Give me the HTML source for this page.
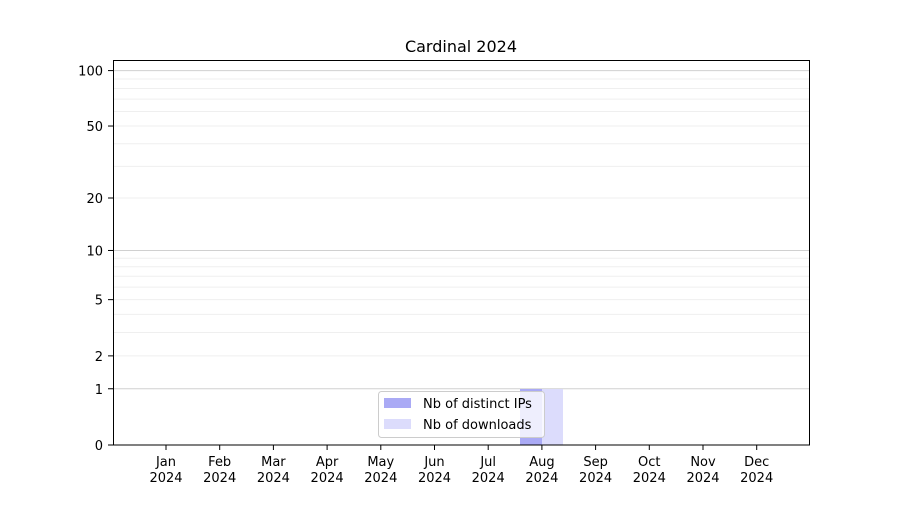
<!DOCTYPE html>
<html><head><meta charset="utf-8"><style>
body{margin:0;background:#fff}
svg text{font-family:"DejaVu Sans","Liberation Sans",sans-serif;fill:#000}
</style></head><body>
<svg width="900" height="500" viewBox="0 0 900 500" xmlns="http://www.w3.org/2000/svg">
<rect width="900" height="500" fill="#fff"/>
<g id="grid"></g>
<rect x="520" y="389" width="22" height="56" fill="#aaaaf5"/>
<rect x="542" y="389" width="21" height="56" fill="#dcdcfc"/>
<rect x="113.5" y="60.5" width="696" height="384.5" fill="none" stroke="#000" stroke-width="1"/>
<text x="461" y="52" font-size="16" text-anchor="middle">Cardinal 2024</text>
<g id="yt" font-size="13" text-anchor="end"></g>
<g id="xt" font-size="13" text-anchor="middle"></g>
<rect x="378.5" y="391.5" width="166" height="46" rx="3" fill="#fff" fill-opacity="0.8" stroke="#ccc"/>
<rect x="384" y="398" width="27" height="10" fill="#aaaaf5"/>
<text x="423" y="408" font-size="13">Nb of distinct IPs</text>
<rect x="384" y="419" width="27" height="10" fill="#dcdcfc"/>
<text x="423" y="429" font-size="13">Nb of downloads</text>
</svg>
<script>
var ns="http://www.w3.org/2000/svg";
function Y(v){return 445-186.8*Math.log10(1+v);}
var g=document.getElementById('grid');
var vals=[];for(var i=1;i<=9;i++)vals.push(i);for(i=10;i<=100;i+=10)vals.push(i);
vals.forEach(function(v){var y=Y(v);var l=document.createElementNS(ns,'line');
l.setAttribute('x1',113);l.setAttribute('x2',810);l.setAttribute('y1',y);l.setAttribute('y2',y);
var maj=(v==1||v==10||v==100);l.setAttribute('stroke',maj?'#d0d0d0':'#efefef');l.setAttribute('stroke-width',1);g.appendChild(l);});
var yt=document.getElementById('yt');
[0,1,2,5,10,20,50,100].forEach(function(v){var y=Y(v);
var t=document.createElementNS(ns,'text');t.setAttribute('x',103);t.setAttribute('y',y+5);t.textContent=v;yt.appendChild(t);
var l=document.createElementNS(ns,'line');l.setAttribute('x1',108);l.setAttribute('x2',113);l.setAttribute('y1',y);l.setAttribute('y2',y);l.setAttribute('stroke','#000');yt.appendChild(l);});
var xt=document.getElementById('xt');
['Jan','Feb','Mar','Apr','May','Jun','Jul','Aug','Sep','Oct','Nov','Dec'].forEach(function(m,i){var x=166+i*53.7;
var l=document.createElementNS(ns,'line');l.setAttribute('x1',x);l.setAttribute('x2',x);l.setAttribute('y1',445);l.setAttribute('y2',450);l.setAttribute('stroke','#000');xt.appendChild(l);
var t=document.createElementNS(ns,'text');t.setAttribute('x',x);t.setAttribute('y',466);t.textContent=m;xt.appendChild(t);
t=document.createElementNS(ns,'text');t.setAttribute('x',x);t.setAttribute('y',482);t.textContent='2024';xt.appendChild(t);});
</script>
</body></html>
